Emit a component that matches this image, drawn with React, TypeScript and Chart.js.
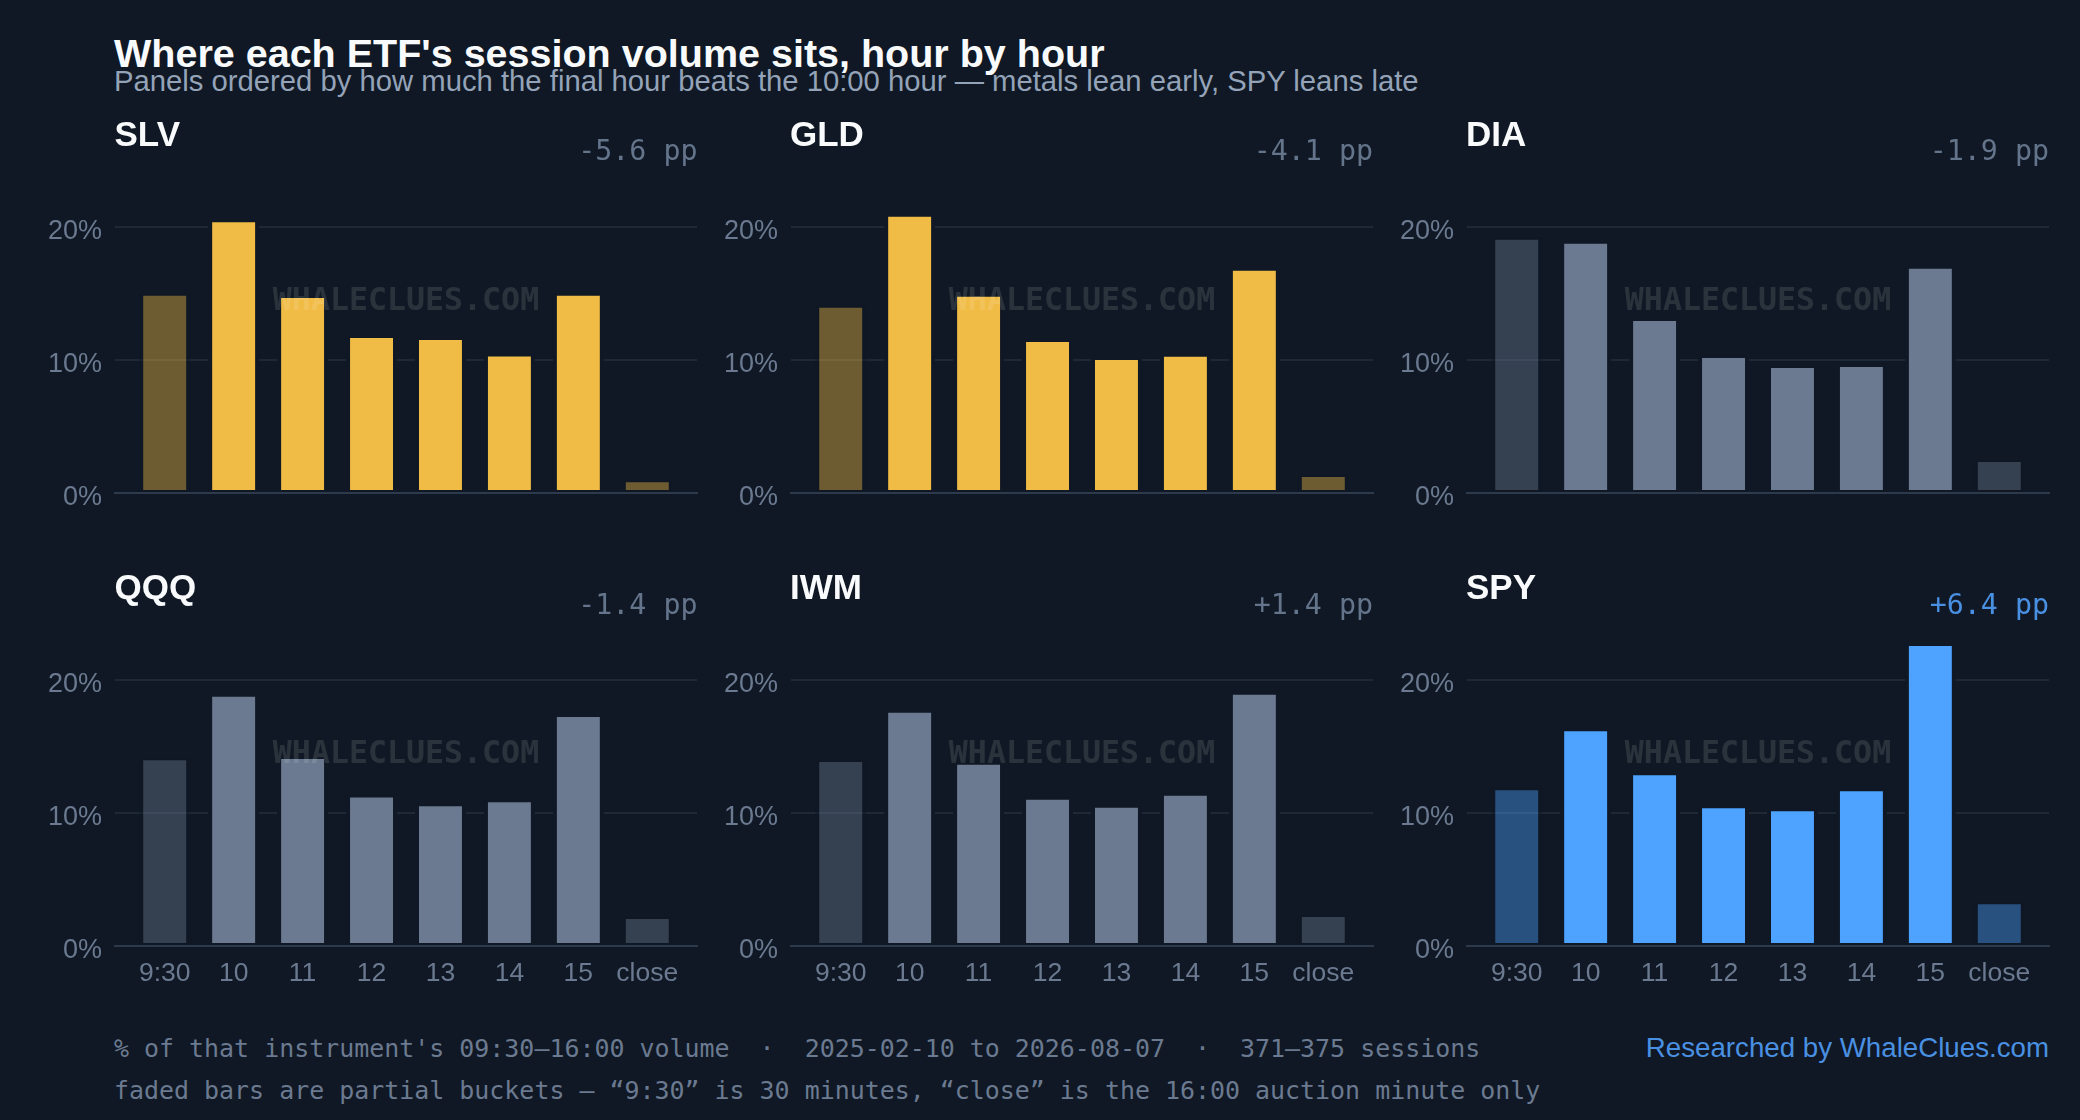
import { useEffect, useRef } from "react"
import { Chart, registerables } from "chart.js"
import type { Plugin } from "chart.js"

Chart.register(...registerables)

const hours = ["9:30", "10", "11", "12", "13", "14", "15", "close"]
const partialBuckets = [0, 7]

const slv = [14.96, 20.5, 14.8, 11.8, 11.65, 10.4, 14.96, 0.96]
const gld = [14.06, 20.9, 14.89, 11.5, 10.15, 10.38, 16.84, 1.35]
const dia = [19.17, 18.87, 13.08, 10.3, 9.55, 9.62, 16.99, 2.48]
const qqq = [14.1, 18.87, 14.2, 11.3, 10.65, 10.95, 17.35, 2.18]
const iwm = [13.98, 17.67, 13.76, 11.13, 10.53, 11.43, 19.02, 2.33]
const spy = [11.85, 16.29, 12.98, 10.5, 10.28, 11.78, 22.68, 3.28]

const tickers = ["SLV", "GLD", "DIA", "QQQ", "IWM", "SPY"]
const deltas = ["-5.6 pp", "-4.1 pp", "-1.9 pp", "-1.4 pp", "+1.4 pp", "+6.4 pp"]
const series = [slv, gld, dia, qqq, iwm, spy]
const yTicks = [0, 10, 20]

const BG = "#0f1824"
const SANS = '"Liberation Sans", Arial, sans-serif'
const MONO = '"DejaVu Sans Mono", monospace'

// bar colour per panel as r,g,b
const GOLD = "240,188,69"
const SLATE = "107,122,144"
const BLUE = "77,163,255"
const panelColors = [GOLD, GOLD, SLATE, SLATE, SLATE, BLUE]

const PLOT_W = 582.5
const PLOT_H = 390
const PAD_LEFT = 90
const PAD_TOP = 8
const PAD_RIGHT = 6
const AXIS_H = 56
const plotLefts = [115, 790.5, 1466.5]
const plotTops = [103, 556]

const watermark: Plugin<"bar"> = {
  id: "watermark",
  afterDatasetsDraw(chart) {
    const { ctx, chartArea } = chart
    ctx.save()
    ctx.font = `bold 31.6px ${MONO}`
    ctx.fillStyle = "rgba(255,255,255,0.115)"
    ctx.textAlign = "center"
    ctx.textBaseline = "middle"
    ctx.fillText("WHALECLUES.COM", (chartArea.left + chartArea.right) / 2, (chartArea.top + chartArea.bottom) / 2 + 3.5)
    ctx.restore()
  },
}

function Panel({ index }: { index: number }) {
  const canvasRef = useRef<HTMLCanvasElement>(null)
  const bottomRow = index >= 3
  const values = series[index]
  const rgb = panelColors[index]
  const left = plotLefts[index % 3]
  const top = plotTops[bottomRow ? 1 : 0]

  useEffect(() => {
    if (!canvasRef.current) return

    const chart = new Chart(canvasRef.current, {
      type: "bar",
      data: {
        datasets: [
          {
            data: values.map((v, i) => ({ x: i, y: v })),
            backgroundColor: values.map((_, i) => `rgba(${rgb},${partialBuckets.includes(i) ? 0.42 : 1})`),
            // the background-coloured edge is what cuts the gridlines beside each bar
            borderColor: values.map((_, i) => (partialBuckets.includes(i) ? "rgba(15,24,36,0.42)" : BG)),
            borderWidth: { top: 2, bottom: 2, left: 4, right: 4 },
            borderSkipped: false,
            inflateAmount: 0,
            barPercentage: 0.739,
            categoryPercentage: 1,
          },
        ],
      },
      options: {
        responsive: false,
        devicePixelRatio: 1,
        animation: false,
        layout: { padding: { top: PAD_TOP, right: PAD_RIGHT, left: 0, bottom: 0 } },
        plugins: { legend: { display: false }, tooltip: { enabled: false } },
        scales: {
          x: {
            type: "linear",
            offset: false,
            min: -0.721,
            max: 7.721,
            afterBuildTicks: (axis) => {
              axis.ticks = hours.map((_, i) => ({ value: i }))
            },
            afterFit: (axis) => {
              axis.height = AXIS_H
              axis.paddingLeft = 0
              axis.paddingRight = 0
            },
            grid: { display: false, drawTicks: false },
            border: { color: "#2c3a4c", width: 2, z: 1 },
            ticks: {
              display: bottomRow,
              autoSkip: false,
              maxRotation: 0,
              padding: 11.5,
              color: "#6b7a90",
              font: { family: SANS, size: 26.5 },
              callback: (value) => hours[value as number],
            },
          },
          y: {
            min: 0,
            max: 29.3,
            afterBuildTicks: (axis) => {
              axis.ticks = yTicks.map((value) => ({ value }))
            },
            afterFit: (axis) => {
              axis.width = PAD_LEFT
              axis.paddingTop = 0
              axis.paddingBottom = 0
            },
            grid: { color: "#1d2937", lineWidth: 2, drawTicks: false },
            border: { display: false },
            ticks: {
              padding: 13,
              labelOffset: 4.5,
              color: "#6b7a90",
              font: { family: SANS, size: 27 },
              callback: (value) => `${value}%`,
            },
          },
        },
      },
      plugins: [watermark],
    })

    return () => chart.destroy()
  }, [])

  return (
    <>
      <canvas
        ref={canvasRef}
        width={PAD_LEFT + PLOT_W + PAD_RIGHT}
        height={PAD_TOP + PLOT_H + AXIS_H}
        style={{ position: "absolute", left: left - PAD_LEFT, top: top - PAD_TOP }}
      />
      <Label x={left - 0.5} y={bottomRow ? 586 : 133} size={35} weight={700} color="#f8fafc">
        {tickers[index]}
      </Label>
      <Label right={2080 - (left + PLOT_W)} y={bottomRow ? 605.5 : 151.5} size={28.3} family={MONO} color={index === 5 ? "#4a90e2" : "#64748b"}>
        {deltas[index]}
      </Label>
    </>
  )
}

type LabelProps = {
  x?: number
  right?: number
  y: number
  size: number
  color: string
  weight?: number
  family?: string
  children: React.ReactNode
}

// y is the vertical centre of the line
function Label({ x, right, y, size, color, weight = 400, family = SANS, children }: LabelProps) {
  return (
    <div
      style={{
        position: "absolute",
        left: x,
        right,
        top: y - size / 2,
        fontSize: size,
        lineHeight: 1,
        fontFamily: family,
        fontWeight: weight,
        color,
        whiteSpace: "pre",
      }}
    >
      {children}
    </div>
  )
}

export default function App() {
  return (
    <div style={{ position: "absolute", left: 0, top: 0, width: 2080, height: 1120, background: BG, overflow: "hidden" }}>
      <Label x={114} y={54} size={39.5} weight={700} color="#f8fafc">
        Where each ETF's session volume sits, hour by hour
      </Label>
      <Label x={114} y={82} size={29.25} color="#94a3b8">
        Panels ordered by how much the final hour beats the 10:00 hour — metals lean early, SPY leans late
      </Label>
      {tickers.map((_, i) => (
        <Panel key={i} index={i} />
      ))}
      <Label x={114} y={1049} size={24.95} family={MONO} color="#6b7a90">
        {"% of that instrument's 09:30–16:00 volume  ·  2025-02-10 to 2026-08-07  ·  371–375 sessions"}
      </Label>
      <Label x={114} y={1091} size={24.95} family={MONO} color="#6b7a90">
        {"faded bars are partial buckets — “9:30” is 30 minutes, “close” is the 16:00 auction minute only"}
      </Label>
      <Label right={31} y={1048} size={27.7} color="#4a90e2">
        Researched by WhaleClues.com
      </Label>
    </div>
  )
}
